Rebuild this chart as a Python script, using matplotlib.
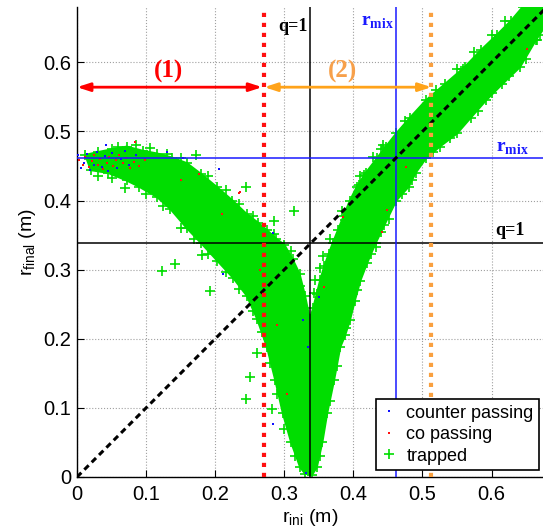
import matplotlib.pyplot as plt
from matplotlib.patches import Polygon
from matplotlib.lines import Line2D

plt.rcParams['font.family'] = ['Liberation Sans', 'DejaVu Sans']
plt.rcParams['mathtext.fontset'] = 'custom'
plt.rcParams['mathtext.rm'] = 'Liberation Sans'
plt.rcParams['mathtext.bf'] = 'Liberation Serif:bold'

# outline of the trapped-particle cloud (r_ini, r_final)
cloud_x = [0.012, 0.030, 0.050, 0.072, 0.095, 0.116, 0.138, 0.159, 0.180, 0.203,
           0.225, 0.246, 0.262, 0.275, 0.288, 0.300, 0.312, 0.322, 0.330, 0.337,
           0.342, 0.347, 0.352, 0.358, 0.364, 0.370, 0.378, 0.386, 0.395, 0.405,
           0.418, 0.434, 0.447, 0.462, 0.482, 0.505, 0.532, 0.561, 0.585, 0.608,
           0.628, 0.645, 0.680, 0.676, 0.664, 0.641, 0.615, 0.592, 0.570, 0.550,
           0.525, 0.505, 0.490, 0.480, 0.462, 0.445, 0.432, 0.420, 0.410, 0.402,
           0.395, 0.388, 0.381, 0.372, 0.362, 0.355, 0.347, 0.340, 0.330, 0.323,
           0.310, 0.298, 0.287, 0.275, 0.261, 0.246, 0.226, 0.203, 0.180, 0.159,
           0.135, 0.116, 0.090, 0.072, 0.045, 0.020]
cloud_y = [0.466, 0.470, 0.474, 0.478, 0.472, 0.468, 0.462, 0.454, 0.438, 0.419,
           0.400, 0.380, 0.368, 0.357, 0.345, 0.336, 0.315, 0.294, 0.262, 0.228,
           0.245, 0.265, 0.285, 0.305, 0.322, 0.338, 0.358, 0.378, 0.400, 0.420,
           0.440, 0.461, 0.478, 0.497, 0.520, 0.545, 0.568, 0.593, 0.618, 0.640,
           0.660, 0.680, 0.680, 0.650, 0.632, 0.593, 0.568, 0.545, 0.520, 0.497,
           0.478, 0.461, 0.440, 0.420, 0.400, 0.365, 0.338, 0.310, 0.284, 0.255,
           0.227, 0.205, 0.188, 0.140, 0.092, 0.050, 0.014, 0.003, 0.005, 0.014,
           0.050, 0.092, 0.140, 0.188, 0.228, 0.262, 0.288, 0.313, 0.338, 0.360,
           0.388, 0.405, 0.420, 0.429, 0.440, 0.444]

# trapped particles on the ragged edges of the cloud
edge_x = [0.105, 0.130, 0.150, 0.190, 0.215, 0.235, 0.255, 0.285, 0.050, 0.100,
          0.125, 0.150, 0.170, 0.190, 0.215, 0.235, 0.255, 0.268, 0.280, 0.290,
          0.300, 0.315, 0.352, 0.366, 0.376, 0.390, 0.405, 0.425, 0.440, 0.470,
          0.485, 0.515, 0.540, 0.580, 0.600, 0.625, 0.650, 0.670, 0.345, 0.356,
          0.366, 0.383, 0.410, 0.440, 0.475, 0.520, 0.550, 0.575, 0.600, 0.620]
edge_y = [0.476, 0.468, 0.462, 0.435, 0.415, 0.395, 0.378, 0.352, 0.432, 0.410,
          0.392, 0.360, 0.345, 0.322, 0.296, 0.272, 0.240, 0.210, 0.165, 0.120,
          0.070, 0.030, 0.030, 0.110, 0.160, 0.215, 0.270, 0.322, 0.355, 0.410,
          0.430, 0.470, 0.490, 0.530, 0.556, 0.580, 0.605, 0.640, 0.285, 0.320,
          0.345, 0.385, 0.435, 0.475, 0.515, 0.560, 0.590, 0.615, 0.640, 0.660]

# isolated trapped particles
trap_x = [0.1225, 0.142, 0.069, 0.031, 0.060, 0.086, 0.172, 0.245, 0.2855, 0.3145,
          0.309, 0.193, 0.181, 0.322, 0.343, 0.352, 0.260, 0.250, 0.2446, 0.2822,
          0.4288, 0.4433, 0.4158, 0.4085, 0.452, 0.4327, 0.388, 0.4988, 0.5615, 0.559,
          0.665, 0.4674]
trap_y = [0.298, 0.308, 0.418, 0.435, 0.478, 0.480, 0.466, 0.420, 0.371, 0.3845,
          0.327, 0.269, 0.321, 0.276, 0.266, 0.302, 0.180, 0.144, 0.1134, 0.099,
          0.463, 0.481, 0.4366, 0.423, 0.374, 0.333, 0.3715, 0.468, 0.533, 0.591,
          0.632, 0.422]

# co passing
co_x = [0.003, 0.008, 0.012, 0.017, 0.021, 0.025, 0.030, 0.034, 0.038, 0.043,
        0.047, 0.052, 0.056, 0.061, 0.066, 0.071, 0.077, 0.083, 0.090, 0.098,
        0.084, 0.177, 0.234, 0.441, 0.449, 0.476, 0.385, 0.357, 0.236, 0.3035,
        0.651, 0.150, 0.210, 0.265, 0.290]
co_y = [0.458, 0.452, 0.463, 0.449, 0.457, 0.466, 0.452, 0.460, 0.446, 0.455,
        0.463, 0.450, 0.458, 0.466, 0.454, 0.461, 0.447, 0.456, 0.450, 0.458,
        0.485, 0.439, 0.411, 0.3546, 0.386, 0.449, 0.376, 0.275, 0.4125, 0.1207,
        0.619, 0.430, 0.380, 0.300, 0.220]

# counter passing
cnt_x = [0.002, 0.006, 0.010, 0.015, 0.019, 0.024, 0.029, 0.036, 0.040, 0.045,
         0.050, 0.058, 0.064, 0.069, 0.075, 0.085, 0.284, 0.284, 0.205, 0.130,
         0.042, 0.154, 0.212, 0.335, 0.3275, 0.3507, 0.3314]
cnt_y = [0.466, 0.447, 0.455, 0.468, 0.444, 0.451, 0.470, 0.448, 0.465, 0.443,
         0.469, 0.447, 0.460, 0.472, 0.452, 0.466, 0.3537, 0.0772, 0.4449, 0.470,
         0.480, 0.461, 0.293, 0.188, 0.2268, 0.2605, 0.0058]

q1_ini, q1_final = 0.337, 0.339
rmix = 0.461
r_lim1, r_lim2 = 0.27, 0.512
arrow_y = 0.564
ticks = [0, 0.1, 0.2, 0.3, 0.4, 0.5, 0.6]
tick_labels = ['0', '0.1', '0.2', '0.3', '0.4', '0.5', '0.6']

green = '#00dd00'

fig = plt.figure(figsize=(5.43, 5.29), dpi=100)
ax = fig.add_axes([77 / 543, 52 / 529, 466 / 543, 470 / 529])

ax.add_patch(Polygon(list(zip(cloud_x, cloud_y)), closed=True, fc=green, ec=green,
                     lw=1.5, zorder=2))
ax.plot(cloud_x, cloud_y, '+', color=green, ms=7, mew=1.2, zorder=2)
ax.plot(edge_x, edge_y, '+', color=green, ms=7, mew=1.2, zorder=2)
ax.plot(trap_x, trap_y, '+', color=green, ms=7, mew=1.2, zorder=2)
ax.plot(cnt_x, cnt_y, 's', color='#1010ff', ms=1.8, mew=0, zorder=3)
ax.plot(co_x, co_y, 's', color='#ff1010', ms=1.8, mew=0, zorder=3)

# reference lines
ax.axvline(q1_ini, color='k', lw=1.1, zorder=4)
ax.axhline(q1_final, color='k', lw=1.1, zorder=4)
ax.axvline(rmix, color='#1a1aff', lw=1.1, zorder=4)
ax.axhline(rmix, color='#1a1aff', lw=1.1, zorder=4)
ax.plot([0, 0.68], [0, 0.68], color='k', lw=2.2, ls=(0, (2.0, 1.4)), zorder=5)
ax.axvline(r_lim1, color='#ff1010', lw=3, ls=(0, (1.0, 1.4)), zorder=5)
ax.axvline(r_lim2, color='#f9a040', lw=3, ls=(0, (1.0, 1.4)), zorder=5)

astyle = '<|-|>,head_length=0.4,head_width=0.13'
ax.annotate('', xy=(0.0, arrow_y), xytext=(0.268, arrow_y),
            arrowprops=dict(arrowstyle=astyle, color='#ff0000', lw=2,
                            mutation_scale=19, shrinkA=0, shrinkB=0), zorder=6)
ax.annotate('', xy=(0.271, arrow_y), xytext=(0.513, arrow_y),
            arrowprops=dict(arrowstyle=astyle, color='#ffa31a', lw=2,
                            mutation_scale=19, shrinkA=0, shrinkB=0), zorder=6)

serif = ['Liberation Serif', 'DejaVu Serif']
ax.text(0.132, 0.587, '(1)', color='#ff0000', fontsize=18, fontweight='bold',
        family=serif, ha='center', va='center')
ax.text(0.384, 0.587, '(2)', color='#f7a04a', fontsize=18, fontweight='bold',
        family=serif, ha='center', va='center')
ax.text(0.334, 0.652, 'q=1', color='k', fontsize=13, fontweight='bold',
        family=serif, ha='right', va='center')
ax.text(0.606, 0.356, 'q=1', color='k', fontsize=13, fontweight='bold',
        family=serif, ha='left', va='center')
ax.text(0.459, 0.658, r'$\mathbf{r}_{\mathbf{mix}}$', color='#1a1aff', fontsize=14,
        ha='right', va='center')
ax.text(0.606, 0.476, r'$\mathbf{r}_{\mathbf{mix}}$', color='#1a1aff', fontsize=14,
        ha='left', va='center')

ax.set_xlim(0, 466 / 691)
ax.set_ylim(0, 0.68)
ax.set_xticks(ticks)
ax.set_xticklabels(tick_labels)
ax.set_yticks(ticks)
ax.set_yticklabels(tick_labels)
ax.grid(True, ls=':', color='#a0a0a0', lw=0.8)
ax.set_axisbelow(True)
for s in ['top', 'right']:
    ax.spines[s].set_visible(False)
for s in ['left', 'bottom']:
    ax.spines[s].set_linewidth(1.0)
ax.tick_params(direction='in', length=5, width=0.8, labelsize=14.5)
ax.tick_params(axis='x', pad=6)
ax.tick_params(axis='y', pad=4)
ax.set_xlabel(r'r$_{\mathrm{ini}}$ (m)', fontsize=14, labelpad=2)
ax.set_ylabel(r'r$_{\mathrm{final}}$ (m)', fontsize=14, labelpad=4)

handles = [
    Line2D([], [], ls='none', marker='s', color='#1010ff', ms=2, mew=0),
    Line2D([], [], ls='none', marker='s', color='#ff1010', ms=2, mew=0),
    Line2D([], [], ls='none', marker='+', color=green, ms=7, mew=1.2),
]
leg = fig.legend(handles, ['counter passing', 'co passing', 'trapped'],
                 loc='lower right', bbox_to_anchor=(539 / 543, 59 / 529),
                 fontsize=13, fancybox=False, framealpha=1, edgecolor='k',
                 handlelength=0.9, handletextpad=0.5, labelspacing=0.25,
                 borderpad=0.3, borderaxespad=0)
leg.get_frame().set_linewidth(1.2)

fig.savefig('out.png', dpi=100)
